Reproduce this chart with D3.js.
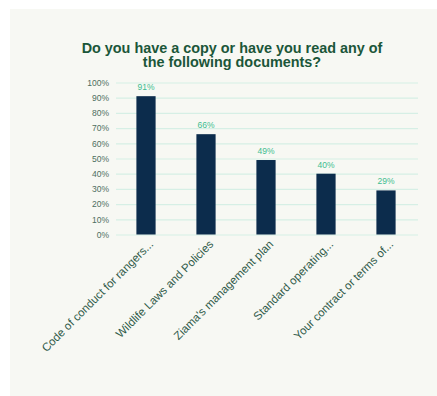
<!DOCTYPE html>
<html>
<head>
<meta charset="utf-8">
<script src="https://cdn.jsdelivr.net/npm/d3@7"></script>
<style>
  html, body { margin: 0; padding: 0; background: #ffffff; }
  svg { display: block; font-family: "Liberation Sans", Arial, sans-serif; }
</style>
</head>
<body>
<svg id="chart" width="437" height="396"></svg>
<script>
const categories = [
  "Code of conduct for rangers...",
  "Wildlife Laws and Policies",
  "Ziama's management plan",
  "Standard operating...",
  "Your contract or terms of..."
];
const values = [91, 66, 49, 40, 29];
const yTicks = [0, 10, 20, 30, 40, 50, 60, 70, 80, 90, 100];
const titleLines = [
  "Do you have a copy or have you read any of",
  "the following documents?"
];

const svg = d3.select("#chart");

// card background
svg.append("rect")
  .attr("x", 10).attr("y", 9)
  .attr("width", 427).attr("height", 387)
  .attr("fill", "#f7f8f3");

// title
svg.append("g").selectAll("text")
  .data(titleLines)
  .join("text")
  .attr("x", 232)
  .attr("y", (d, i) => 52.5 + i * 14.8)
  .attr("text-anchor", "middle")
  .attr("font-size", 14.4)
  .attr("font-weight", "bold")
  .attr("fill", "#1b5639")
  .text(d => d);

const x = d3.scaleBand()
  .domain(categories)
  .range([116, 416])
  .paddingInner(0.68)
  .paddingOuter(0.34);

const y = d3.scaleLinear()
  .domain([0, 100])
  .range([234.5, 82.5]);

// gridlines + y labels
const yAxis = svg.append("g")
  .attr("transform", "translate(116,0)")
  .call(d3.axisLeft(y).tickValues(yTicks).tickSize(-302).tickFormat(d => d + "%"));
yAxis.select(".domain").remove();
yAxis.selectAll(".tick line")
  .attr("stroke", "#d6efe5")
  .attr("stroke-width", 1.2);
yAxis.selectAll(".tick text")
  .attr("x", -7)
  .attr("font-size", 8.5)
  .attr("fill", "#4d6e60")
  .attr("font-family", "Liberation Sans, Arial, sans-serif");

// bars
svg.append("g").selectAll("rect")
  .data(values)
  .join("rect")
  .attr("x", (d, i) => x(categories[i]))
  .attr("y", d => y(d))
  .attr("width", x.bandwidth())
  .attr("height", d => y(0) - y(d))
  .attr("fill", "#0c2c4c");

// value labels
svg.append("g").selectAll("text")
  .data(values)
  .join("text")
  .attr("x", (d, i) => x(categories[i]) + x.bandwidth() / 2)
  .attr("y", d => y(d) - 6)
  .attr("text-anchor", "middle")
  .attr("font-size", 8.5)
  .attr("fill", "#40bd90")
  .text(d => d + "%");

// category labels, rotated
svg.append("g").selectAll("text")
  .data(categories)
  .join("text")
  .attr("transform", d => `translate(${x(d) + x.bandwidth() / 2 + 8},${245}) rotate(-45)`)
  .attr("text-anchor", "end")
  .attr("font-size", 11.5)
  .attr("fill", "#2f5a49")
  .text(d => d);
</script>
</body>
</html>
